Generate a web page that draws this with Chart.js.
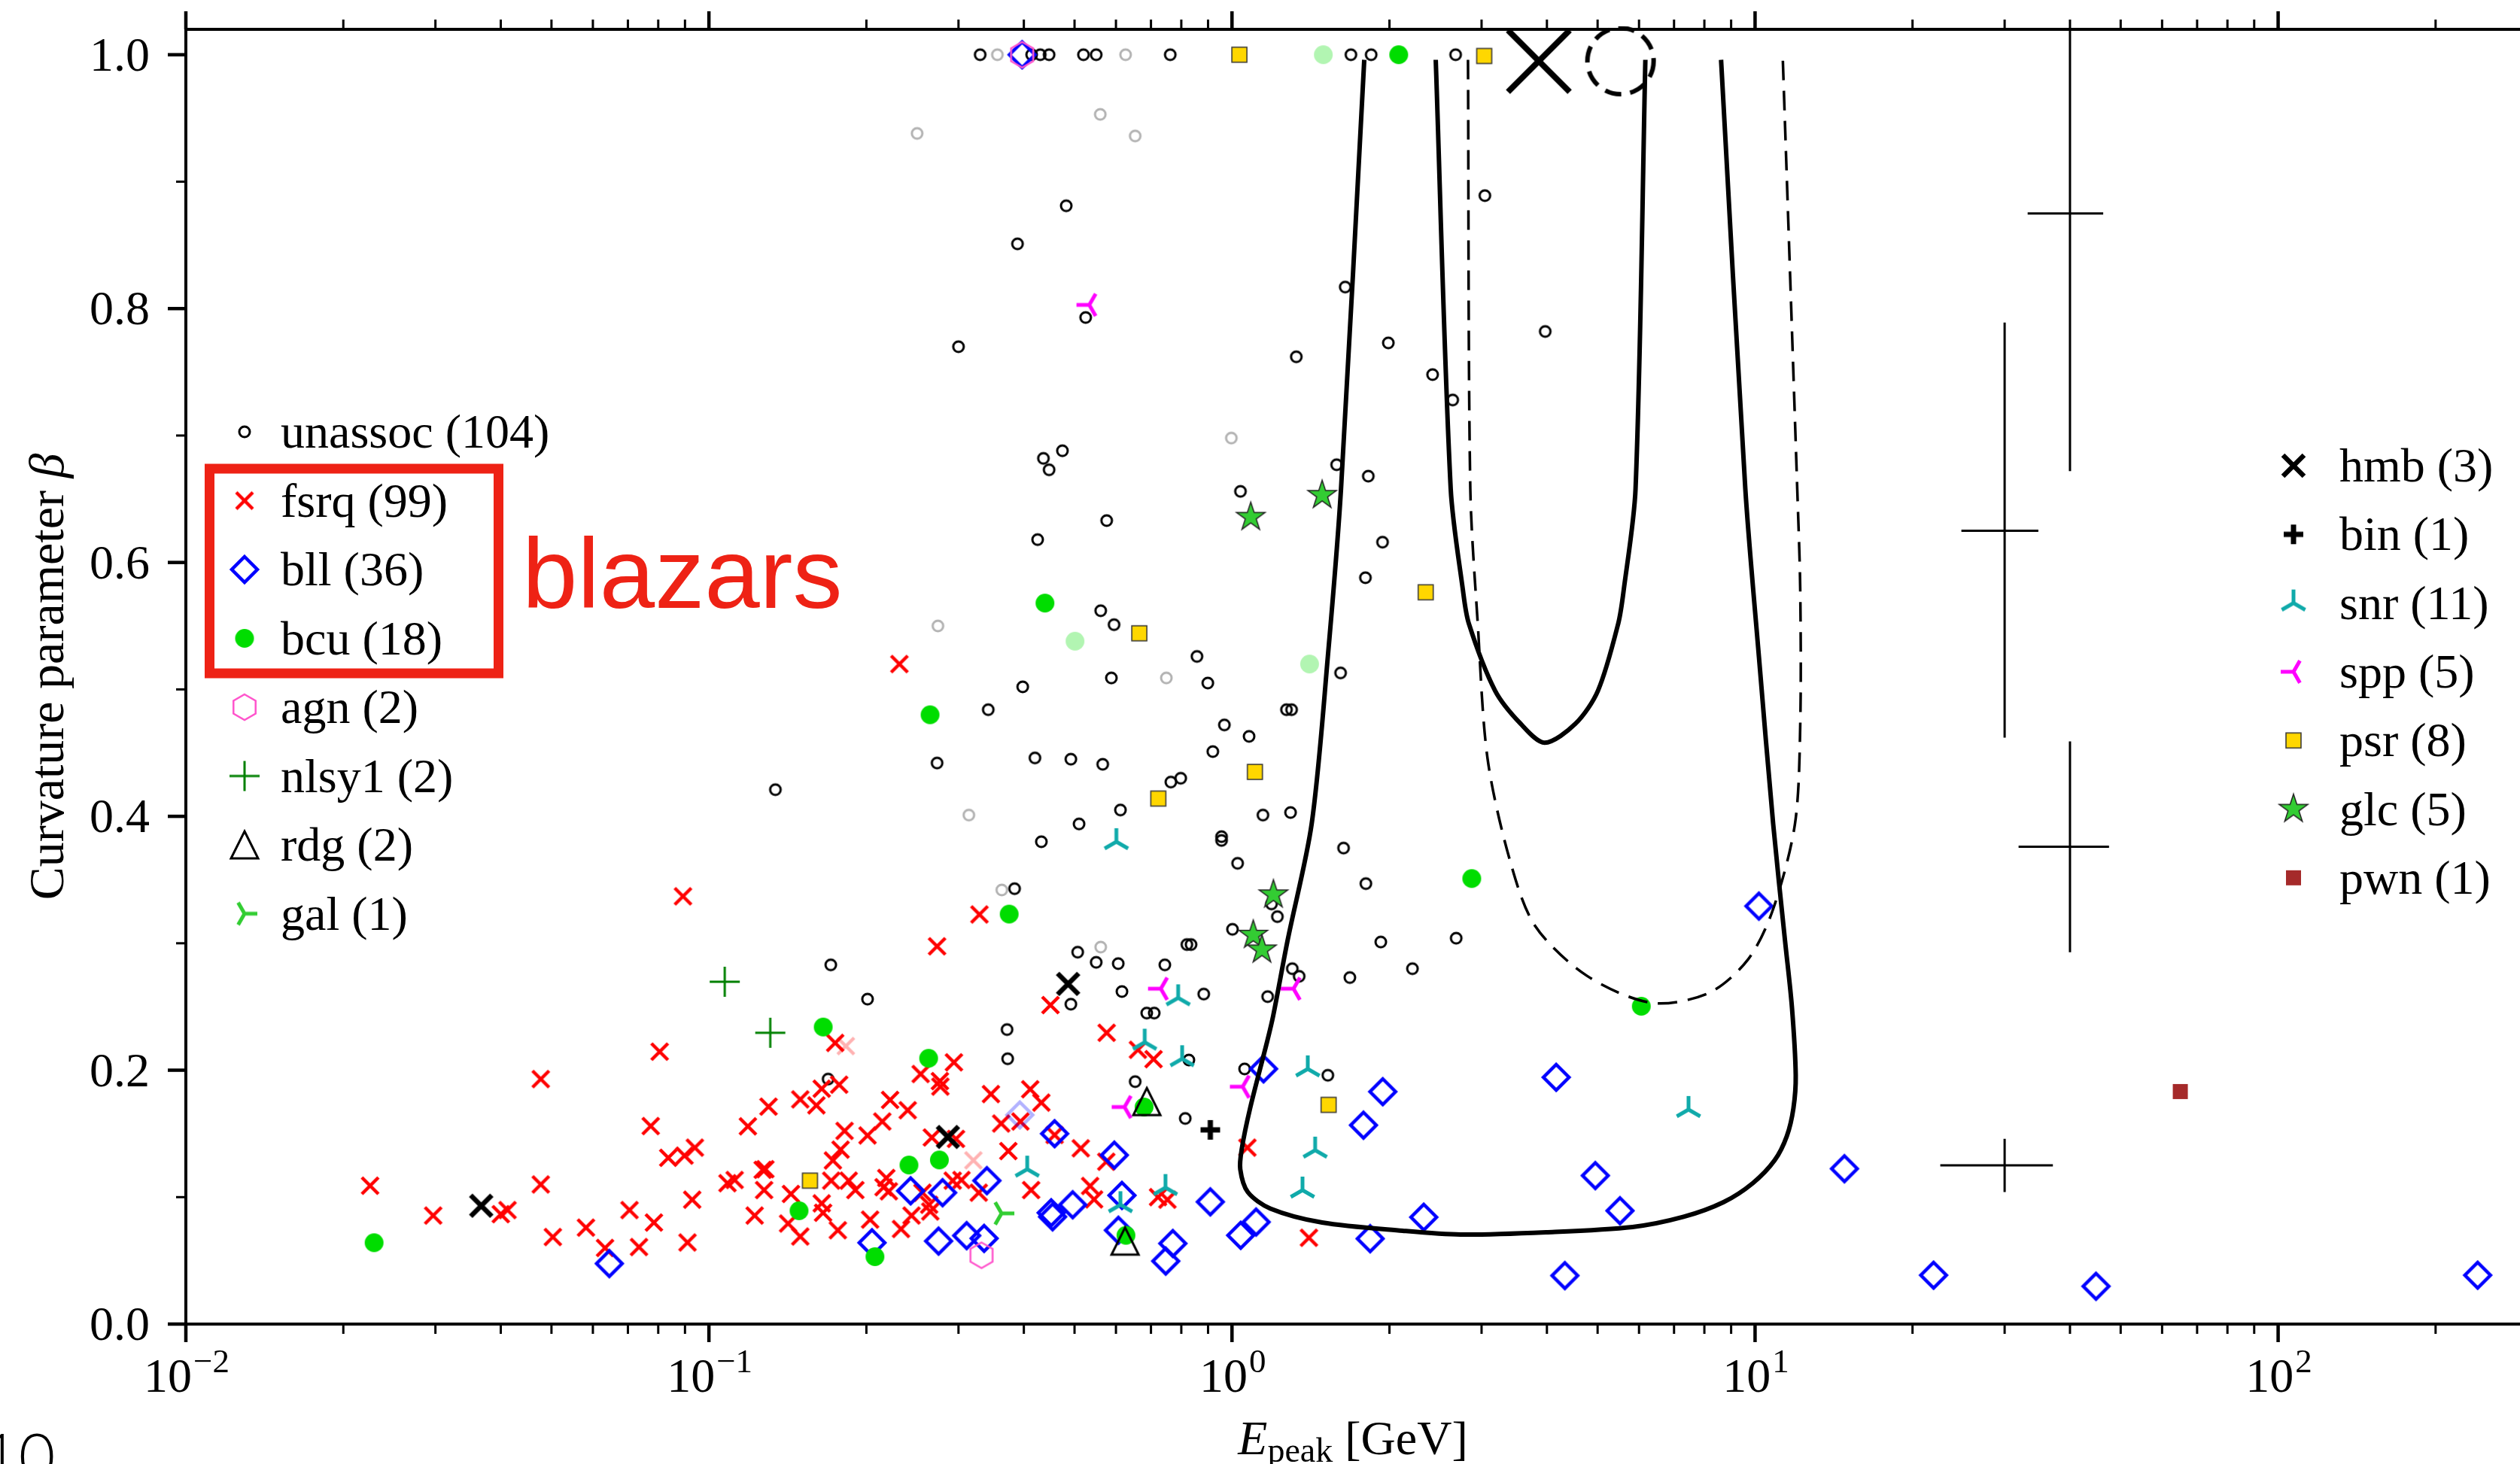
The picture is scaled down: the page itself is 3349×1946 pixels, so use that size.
<!DOCTYPE html>
<html>
<head>
<meta charset="utf-8">
<script src="https://cdn.jsdelivr.net/npm/chart.js@4.4.1/dist/chart.umd.min.js"></script>
<style>
  html, body { margin: 0; padding: 0; background: #fff; overflow: hidden; }
  canvas { display: block; }
</style>
</head>
<body>
<canvas id="chart" width="3349" height="1946"></canvas>
<script>
// Epeak vs curvature beta, by source class

// unassociated sources
const unassocX = [0.33, 0.414, 0.43, 0.447, 0.52, 0.55, 0.762, 1.688, 1.845, 2.676,
  0.482, 0.389, 3.044, 1.646, 0.525, 0.30, 1.99, 1.327, 3.97, 2.418, 2.642,
  0.436, 0.447, 0.474, 1.585, 1.822, 1.038, 0.576, 0.425, 1.94, 1.799, 0.561, 0.595,
  0.857, 1.613, 0.588, 0.899, 0.398, 0.342, 1.271, 1.30, 0.967, 1.078, 0.919, 0.273,
  0.42, 0.492, 0.566, 0.798, 0.764, 0.612, 0.51, 0.432, 1.146, 1.294, 0.955, 0.955,
  1.634, 1.025, 1.803, 0.384, 1.19, 1.221, 1.002, 1.925, 2.683, 0.507, 0.82, 0.835,
  0.55, 0.606, 0.744, 0.171, 1.304, 1.344, 1.68, 2.213, 0.201, 0.616, 0.883, 1.17,
  0.492, 0.687, 0.71, 0.3715, 0.3725, 0.827, 1.057, 1.525, 0.653, 0.814, 0.169, 0.134];
const unassocY = [1.0, 1.0, 1.0, 1.0, 1.0, 1.0, 1.0, 1.0, 1.0, 1.0,
  0.881, 0.851, 0.889, 0.817, 0.793, 0.770, 0.773, 0.762, 0.782, 0.748, 0.728,
  0.682, 0.673, 0.688, 0.677, 0.668, 0.656, 0.633, 0.618, 0.616, 0.588, 0.562, 0.551,
  0.526, 0.513, 0.509, 0.505, 0.502, 0.484, 0.484, 0.484, 0.472, 0.463, 0.451, 0.442,
  0.446, 0.445, 0.441, 0.430, 0.427, 0.405, 0.394, 0.380, 0.401, 0.403, 0.384, 0.381,
  0.375, 0.363, 0.347, 0.343, 0.331, 0.321, 0.311, 0.301, 0.304, 0.293, 0.299, 0.299,
  0.285, 0.284, 0.283, 0.283, 0.280, 0.274, 0.273, 0.280, 0.256, 0.262, 0.260, 0.258,
  0.252, 0.245, 0.245, 0.232, 0.209, 0.208, 0.201, 0.196, 0.191, 0.162, 0.193, 0.421];
const unassocFadedX = [0.356, 0.626, 0.25, 0.56, 0.653, 0.997, 0.274, 0.749, 0.314, 0.363, 0.561];
const unassocFadedY = [1.0, 1.0, 0.938, 0.953, 0.936, 0.698, 0.55, 0.509, 0.401, 0.342, 0.297];

// fsrq
const fsrqX = [0.0225, 0.0297, 0.040, 0.0412, 0.0477, 0.0477, 0.0503, 0.0582, 0.0633, 0.0705,
  0.0735, 0.0785, 0.0774, 0.0805, 0.0836, 0.0898, 0.094, 0.0929, 0.091, 0.0892, 0.1085, 0.112,
  0.329, 0.273, 0.1743, 0.4497, 0.576, 0.661, 0.346, 0.4114, 0.432, 0.294, 0.254, 0.2764,
  0.277, 0.222, 0.2399, 0.2145, 0.201, 0.1817, 0.1785, 0.1726, 0.130, 0.1187, 0.1495, 0.1605,
  0.1643, 0.1774, 0.1267, 0.1282, 0.1275, 0.1223, 0.1435, 0.1417, 0.1495, 0.1643, 0.1653,
  0.1764, 0.1713, 0.185, 0.1905, 0.2183, 0.2157, 0.2208, 0.2033, 0.2329, 0.244, 0.265,
  0.2636, 0.256, 0.2668, 0.2967, 0.2925, 0.3039, 0.328, 0.362, 0.394, 0.3736, 0.458, 0.514,
  0.575, 0.5355, 0.545, 0.413, 0.708, 0.722, 0.7526, 1.07, 1.403, 0.2313];
const fsrqY = [0.109, 0.0855, 0.0866, 0.0898, 0.110, 0.193, 0.0686, 0.076, 0.060, 0.0898,
  0.0607, 0.080, 0.156, 0.2146, 0.131, 0.1327, 0.139, 0.098, 0.0643, 0.337, 0.111, 0.1135,
  0.3227, 0.2976, 0.2215, 0.2513, 0.2295, 0.2161, 0.1812, 0.185, 0.1745, 0.2062, 0.197, 0.1914,
  0.1871, 0.1766, 0.1685, 0.1596, 0.1486, 0.1522, 0.1374, 0.1289, 0.1713, 0.1558, 0.177, 0.1723,
  0.1854, 0.1886, 0.1215, 0.122, 0.1056, 0.0855, 0.1025, 0.0792, 0.069, 0.0951, 0.0877,
  0.0739, 0.113, 0.113, 0.1056, 0.1151, 0.1078, 0.1046, 0.0823, 0.0749, 0.0855, 0.0887,
  0.094, 0.1035, 0.147, 0.1459, 0.113, 0.1135, 0.1035, 0.158, 0.1596, 0.1363, 0.149, 0.1385,
  0.1279, 0.1088, 0.0982, 0.1056, 0.2087, 0.100, 0.098, 0.139, 0.068, 0.52];
const fsrqFadedX = [0.1827, 0.3203];
const fsrqFadedY = [0.219, 0.129];

// bll
const bllX = [0.0645, 0.205, 0.243, 0.2797, 0.3399, 0.2748, 0.311, 0.3358, 0.458, 0.5957,
  0.4512, 0.4539, 0.496, 0.616, 0.6065, 0.909, 1.149, 1.942, 1.784, 1.112, 1.039, 0.7707,
  2.326, 1.837, 0.747, 4.167, 4.95, 5.518, 4.329, 14.82, 21.94, 44.86, 240.7, 10.17, 0.397];
const bllY = [0.0477, 0.0641, 0.105, 0.1035, 0.113, 0.0654, 0.0697, 0.0675, 0.150, 0.1331,
  0.0877, 0.0845, 0.094, 0.1014, 0.0739, 0.0963, 0.2011, 0.1831, 0.1567, 0.0804, 0.0699, 0.0635,
  0.0842, 0.0673, 0.0496, 0.1944, 0.117, 0.0893, 0.0382, 0.1224, 0.0385, 0.0298, 0.0385, 0.3293, 1.0];
const bllFadedX = [0.393];
const bllFadedY = [0.1648];

// bcu
const bcuX = [0.0229, 0.1487, 0.1654, 0.2077, 0.263, 0.2412, 0.2758, 0.375, 0.439, 0.2647,
  2.873, 6.06, 2.083, 0.679, 0.627];
const bcuY = [0.0641, 0.0893, 0.234, 0.0531, 0.2094, 0.1253, 0.1293, 0.323, 0.568, 0.48,
  0.351, 0.2504, 1.0, 0.171, 0.0699];
const bcuFadedX = [1.495, 0.501, 1.407];
const bcuFadedY = [1.0, 0.538, 0.520];

// other classes
const agnX = [0.332, 0.397];
const agnY = [0.0542, 1.0];
const nlsy1X = [0.1072, 0.131];
const nlsy1Y = [0.2697, 0.2295];
const rdgX = [0.6874, 0.6245];
const rdgY = [0.1753, 0.0654];
const galX = [0.3626];
const galY = [0.0872];
const hmbX = [0.0367, 0.486, 0.2863];
const hmbY = [0.0932, 0.268, 0.1474];
const binX = [0.909];
const binY = [0.153];
const snrX = [0.601, 0.789, 0.681, 0.803, 1.396, 1.442, 1.364, 0.746, 0.612, 0.406, 7.46];
const snrY = [0.380, 0.257, 0.222, 0.209, 0.201, 0.137, 0.1055, 0.1075, 0.094, 0.122, 0.169];
const sppX = [0.5335, 0.731, 1.311, 1.048, 0.623];
const sppY = [0.8029, 0.2642, 0.2642, 0.187, 0.171];
const psrX = [1.033, 3.035, 2.346, 0.665, 1.106, 0.723, 1.53, 0.156];
const psrY = [1.0, 0.999, 0.5765, 0.5442, 0.435, 0.414, 0.1727, 0.113];
const glcX = [1.086, 1.487, 1.2, 1.098, 1.141];
const glcY = [0.6357, 0.653, 0.3383, 0.3065, 0.2949];
const pwnX = [65.0];
const pwnY = [0.1832];

// large markers at the top
const bigCrossX = [3.86];
const bigCrossY = [0.995];
const ringX = [5.53];
const ringY = [0.995];

// contours
const outerX = [1.79, 1.616, 1.525, 1.42, 1.277, 1.199, 1.168, 1.083, 1.044, 1.037, 1.072, 1.184,
  1.487, 2.119, 2.734, 3.986, 5.833, 7.3, 8.7, 9.9, 10.9, 11.5, 11.84, 11.96, 11.76,
  11.41, 10.83, 10.17, 9.58, 8.61];
const outerY = [0.996, 0.658, 0.526, 0.394, 0.302, 0.243, 0.223, 0.170, 0.138, 0.122, 0.104, 0.091,
  0.080, 0.0735, 0.0705, 0.0723, 0.0765, 0.0845, 0.096, 0.111, 0.129, 0.148, 0.170, 0.196, 0.250,
  0.302, 0.394, 0.526, 0.658, 0.996];
const innerX = [2.452, 2.619, 2.763, 2.836, 3.184, 3.562, 3.961, 4.536, 5.008, 5.476, 5.61, 5.909, 6.17];
const innerY = [0.996, 0.658, 0.5785, 0.552, 0.499, 0.473, 0.458, 0.473, 0.499, 0.552, 0.5785, 0.658, 0.996];
const dashX = [2.826, 2.855, 2.95, 3.079, 3.39, 3.793, 4.766, 6.357, 8.175, 9.707, 10.83, 11.92,
  12.2, 12.2, 12.04, 11.3];
const dashY = [0.996, 0.658, 0.552, 0.446, 0.367, 0.314, 0.2745, 0.253, 0.261, 0.2875, 0.327, 0.394,
  0.472, 0.5785, 0.658, 0.996];

// typical error bars
const errX = [40, 30, 40, 30];
const errY = [0.875, 0.625, 0.376, 0.125];
const errXLo = [33.2, 24.8, 31.9, 22.6];
const errXHi = [46.3, 34.8, 47.5, 37.1];
const errYLo = [0.672, 0.462, 0.293, 0.104];
const errYHi = [1.08, 0.789, 0.459, 0.146];

// axes
const xDecades = [-2, -1, 0, 1, 2];
const yMajor = [0.0, 0.2, 0.4, 0.6, 0.8, 1.0];
const yMinor = [0.1, 0.3, 0.5, 0.7, 0.9];

const SERIF = '"Liberation Serif", "DejaVu Serif", serif';
const FS = 64;

function makeMarker(shape, size, stroke, fill, lw, dash) {
  const pad = Math.ceil(lw || 0) + 2;
  const dim = Math.ceil(size + 2 * pad);
  const cv = document.createElement('canvas');
  cv.width = dim; cv.height = dim;
  const g = cv.getContext('2d');
  const r = size / 2;
  g.translate(dim / 2, dim / 2);
  g.beginPath();
  if (shape === 'circle') {
    g.arc(0, 0, r, 0, Math.PI * 2);
  } else if (shape === 'square') {
    g.rect(-r, -r, size, size);
  } else if (shape === 'diamond') {
    g.moveTo(0, -r); g.lineTo(r, 0); g.lineTo(0, r); g.lineTo(-r, 0); g.closePath();
  } else if (shape === 'triangle') {
    g.moveTo(0, -r); g.lineTo(r, r); g.lineTo(-r, r); g.closePath();
  } else if (shape === 'hexagon') {
    for (let k = 0; k < 6; k++) {
      const t = -Math.PI / 2 + k * Math.PI / 3;
      if (k === 0) g.moveTo(r * Math.cos(t), r * Math.sin(t));
      else g.lineTo(r * Math.cos(t), r * Math.sin(t));
    }
    g.closePath();
  } else if (shape === 'star') {
    for (let k = 0; k < 10; k++) {
      const rr = k % 2 ? r * 0.382 : r;
      const t = -Math.PI / 2 + k * Math.PI / 5;
      if (k === 0) g.moveTo(rr * Math.cos(t), rr * Math.sin(t));
      else g.lineTo(rr * Math.cos(t), rr * Math.sin(t));
    }
    g.closePath();
  } else if (shape === 'x') {
    g.moveTo(-r, -r); g.lineTo(r, r); g.moveTo(r, -r); g.lineTo(-r, r);
  } else if (shape === 'plus') {
    g.moveTo(-r, 0); g.lineTo(r, 0); g.moveTo(0, -r); g.lineTo(0, r);
  } else {
    const base = { triUp: -90, triLeft: 180, triRight: 0 }[shape];
    for (let k = 0; k < 3; k++) {
      const t = (base + k * 120) * Math.PI / 180;
      g.moveTo(0, 0); g.lineTo(r * Math.cos(t), r * Math.sin(t));
    }
  }
  if (fill) { g.fillStyle = fill; g.fill(); }
  if (stroke && lw > 0) {
    g.lineWidth = lw; g.strokeStyle = stroke;
    if (dash) g.setLineDash(dash);
    g.stroke();
  }
  return cv;
}

const mk = {
  unassoc: makeMarker('circle', 14, '#000', null, 3),
  unassocFaded: makeMarker('circle', 14, 'rgba(0,0,0,0.3)', null, 3),
  fsrq: makeMarker('x', 22, '#ff0000', null, 4.5),
  fsrqFaded: makeMarker('x', 22, 'rgba(255,0,0,0.3)', null, 4.5),
  bll: makeMarker('diamond', 34, '#0000ff', null, 4.5),
  bllFaded: makeMarker('diamond', 34, 'rgba(0,0,255,0.3)', null, 4.5),
  bcu: makeMarker('circle', 25, null, '#00dd00', 0),
  bcuFaded: makeMarker('circle', 25, null, 'rgba(0,221,0,0.3)', 0),
  agn: makeMarker('hexagon', 34, '#ff55cc', null, 2.5),
  nlsy1: makeMarker('plus', 40, '#008000', null, 3),
  rdg: makeMarker('triangle', 36, '#000', null, 3),
  gal: makeMarker('triRight', 34, '#32cd32', null, 5),
  hmb: makeMarker('x', 28, '#000', null, 6.5),
  bin: makeMarker('plus', 26, '#000', null, 7),
  snr: makeMarker('triUp', 36, '#10aaaa', null, 5),
  spp: makeMarker('triLeft', 34, '#ff00ff', null, 5),
  psr: makeMarker('square', 20, '#333', '#ffd700', 1.5),
  glc: makeMarker('star', 40, '#222', '#33cc33', 1.5),
  pwn: makeMarker('square', 20, null, '#a52a2a', 0),
  bigCross: makeMarker('x', 82, '#000', null, 8),
  ring: makeMarker('circle', 88, '#000', null, 6, [22, 12])
};

const pts = (xs, ys) => xs.map((v, i) => ({ x: v, y: ys[i] }));

function scatterSet(xs, ys, img) {
  return { data: pts(xs, ys), pointStyle: img, pointRadius: 12, showLine: false, clip: 4 };
}
function lineSet(data, width, dash) {
  return {
    data, showLine: true, pointRadius: 0, borderColor: '#000', borderWidth: width,
    borderDash: dash || [], tension: 0.3, fill: false, spanGaps: false, clip: 0
  };
}

const errData = [];
errX.forEach((x, i) => {
  errData.push({ x: errXLo[i], y: errY[i] }, { x: errXHi[i], y: errY[i] }, { x: x, y: null });
  errData.push({ x: x, y: errYLo[i] }, { x: x, y: errYHi[i] }, { x: x, y: null });
});

// bottom to top
const datasets = [
  scatterSet(unassocFadedX, unassocFadedY, mk.unassocFaded),
  scatterSet(unassocX, unassocY, mk.unassoc),
  scatterSet(fsrqFadedX, fsrqFadedY, mk.fsrqFaded),
  scatterSet(fsrqX, fsrqY, mk.fsrq),
  scatterSet(bllFadedX, bllFadedY, mk.bllFaded),
  scatterSet(bllX, bllY, mk.bll),
  scatterSet(bcuFadedX, bcuFadedY, mk.bcuFaded),
  scatterSet(bcuX, bcuY, mk.bcu),
  scatterSet(agnX, agnY, mk.agn),
  scatterSet(nlsy1X, nlsy1Y, mk.nlsy1),
  scatterSet(rdgX, rdgY, mk.rdg),
  scatterSet(galX, galY, mk.gal),
  scatterSet(hmbX, hmbY, mk.hmb),
  scatterSet(binX, binY, mk.bin),
  scatterSet(snrX, snrY, mk.snr),
  scatterSet(sppX, sppY, mk.spp),
  scatterSet(psrX, psrY, mk.psr),
  scatterSet(glcX, glcY, mk.glc),
  scatterSet(pwnX, pwnY, mk.pwn),
  scatterSet(bigCrossX, bigCrossY, mk.bigCross),
  scatterSet(ringX, ringY, mk.ring),
  lineSet(errData, 3),
  lineSet(pts(dashX, dashY), 3.5, [26, 14]),
  lineSet(pts(outerX, outerY), 6),
  lineSet(pts(innerX, innerY), 6)
];
datasets.forEach((d, i) => { d.order = datasets.length - i; });

const legendLeft = [
  [mk.unassoc, 'unassoc (104)'], [mk.fsrq, 'fsrq (99)'], [mk.bll, 'bll (36)'], [mk.bcu, 'bcu (18)'],
  [mk.agn, 'agn (2)'], [mk.nlsy1, 'nlsy1 (2)'], [mk.rdg, 'rdg (2)'], [mk.gal, 'gal (1)']
];
const legendRight = [
  [mk.hmb, 'hmb (3)'], [mk.bin, 'bin (1)'], [mk.snr, 'snr (11)'], [mk.spp, 'spp (5)'],
  [mk.psr, 'psr (8)'], [mk.glc, 'glc (5)'], [mk.pwn, 'pwn (1)']
];

const decorPlugin = {
  id: 'decor',
  afterDraw(chart) {
    const { ctx, chartArea: a, scales: { x, y } } = chart;
    ctx.save();
    ctx.strokeStyle = '#000';
    ctx.fillStyle = '#000';

    // spines
    ctx.lineWidth = 4;
    ctx.beginPath();
    ctx.moveTo(a.left, a.top - 2); ctx.lineTo(a.left, a.bottom + 2);
    ctx.moveTo(a.left - 2, a.bottom); ctx.lineTo(a.right, a.bottom);
    ctx.moveTo(a.left - 2, a.top); ctx.lineTo(a.right, a.top);
    ctx.stroke();

    // x ticks, bottom and top
    xDecades.forEach(d => {
      for (let k = 1; k <= 9; k++) {
        const v = k * Math.pow(10, d);
        if (v > x.max) break;
        const px = x.getPixelForValue(v);
        const len = k === 1 ? 24 : 13;
        ctx.lineWidth = k === 1 ? 4.5 : 3;
        ctx.beginPath();
        ctx.moveTo(px, a.bottom); ctx.lineTo(px, a.bottom + len);
        ctx.moveTo(px, a.top); ctx.lineTo(px, a.top - len);
        ctx.stroke();
      }
    });
    // y ticks
    yMajor.concat(yMinor).forEach(v => {
      const py = y.getPixelForValue(v);
      const major = yMajor.includes(v);
      ctx.lineWidth = major ? 4.5 : 3;
      ctx.beginPath();
      ctx.moveTo(a.left, py); ctx.lineTo(a.left - (major ? 24 : 13), py);
      ctx.stroke();
    });

    // y tick labels
    ctx.font = FS + 'px ' + SERIF;
    ctx.textAlign = 'right';
    ctx.textBaseline = 'alphabetic';
    yMajor.forEach(v => {
      ctx.fillText(v.toFixed(1), a.left - 48, y.getPixelForValue(v) + 21);
    });

    // x tick labels 10^n
    ctx.textAlign = 'left';
    xDecades.forEach(d => {
      const px = x.getPixelForValue(Math.pow(10, d));
      const sup = d < 0 ? '\u2212' + (-d) : String(d);
      ctx.font = FS + 'px ' + SERIF;
      const wBase = ctx.measureText('10').width;
      ctx.font = '45px ' + SERIF;
      const wSup = ctx.measureText(sup).width;
      const x0 = px - (wBase + wSup) / 2;
      ctx.font = FS + 'px ' + SERIF;
      ctx.fillText('10', x0, a.bottom + 90);
      ctx.font = '45px ' + SERIF;
      ctx.fillText(sup, x0 + wBase + 2, a.bottom + 64);
    });

    // x title: E_peak [GeV]
    {
      const cx = (a.left + a.right) / 2;
      const base = a.bottom + 173;
      ctx.font = 'italic ' + FS + 'px ' + SERIF;
      const wE = ctx.measureText('E').width;
      ctx.font = '46px ' + SERIF;
      const wSub = ctx.measureText('peak').width;
      ctx.font = FS + 'px ' + SERIF;
      const wRest = ctx.measureText(' [GeV]').width;
      let x0 = cx - (wE + wSub + wRest) / 2;
      ctx.font = 'italic ' + FS + 'px ' + SERIF;
      ctx.fillText('E', x0, base);
      x0 += wE;
      ctx.font = '46px ' + SERIF;
      ctx.fillText('peak', x0, base + 10);
      x0 += wSub;
      ctx.font = FS + 'px ' + SERIF;
      ctx.fillText(' [GeV]', x0, base);
    }

    // y title
    {
      ctx.save();
      ctx.translate(84, (a.top + a.bottom) / 2);
      ctx.rotate(-Math.PI / 2);
      ctx.font = '66px ' + SERIF;
      const t1 = 'Curvature parameter ';
      const w1 = ctx.measureText(t1).width;
      ctx.font = 'italic 66px ' + SERIF;
      const w2 = ctx.measureText('\u03b2').width;
      const x0 = -(w1 + w2) / 2;
      ctx.font = '66px ' + SERIF;
      ctx.fillText(t1, x0, 0);
      ctx.font = 'italic 66px ' + SERIF;
      ctx.fillText('\u03b2', x0 + w1, 0);
      ctx.restore();
    }

    // legends
    ctx.font = FS + 'px ' + SERIF;
    ctx.textAlign = 'left';
    legendLeft.forEach(([img, label], i) => {
      const ly = 574 + i * 91.5;
      ctx.drawImage(img, 325 - img.width / 2, ly - img.height / 2);
      ctx.fillText(label, 373, ly + 21);
    });
    legendRight.forEach(([img, label], i) => {
      const ly = 619 + i * 91.3;
      ctx.drawImage(img, 3048 - img.width / 2, ly - img.height / 2);
      ctx.fillText(label, 3109, ly + 21);
    });

    // blazar box and label
    ctx.strokeStyle = '#ee2215';
    ctx.lineWidth = 13;
    ctx.strokeRect(278.5, 623, 384, 272);
    ctx.fillStyle = '#ee2215';
    ctx.font = '132px "Liberation Sans", Arial, sans-serif';
    ctx.fillText('blazars', 694, 808);

    // fragment of neighbouring page text
    ctx.fillStyle = '#000';
    ctx.font = '300 84px Lato, "Liberation Sans", sans-serif';
    ctx.fillText('10', -24, 1966);

    ctx.restore();
  }
};

new Chart(document.getElementById('chart'), {
  type: 'scatter',
  data: { datasets },
  options: {
    responsive: false,
    devicePixelRatio: 1,
    animation: false,
    events: [],
    layout: { autoPadding: false, padding: { left: 247, top: 39, right: 0, bottom: 186 } },
    scales: {
      x: { type: 'logarithmic', min: 0.01, max: 290, display: false },
      y: { type: 'linear', min: 0, max: 1.02, display: false }
    },
    plugins: { legend: { display: false }, tooltip: { enabled: false } }
  },
  plugins: [decorPlugin]
});
</script>
</body>
</html>
